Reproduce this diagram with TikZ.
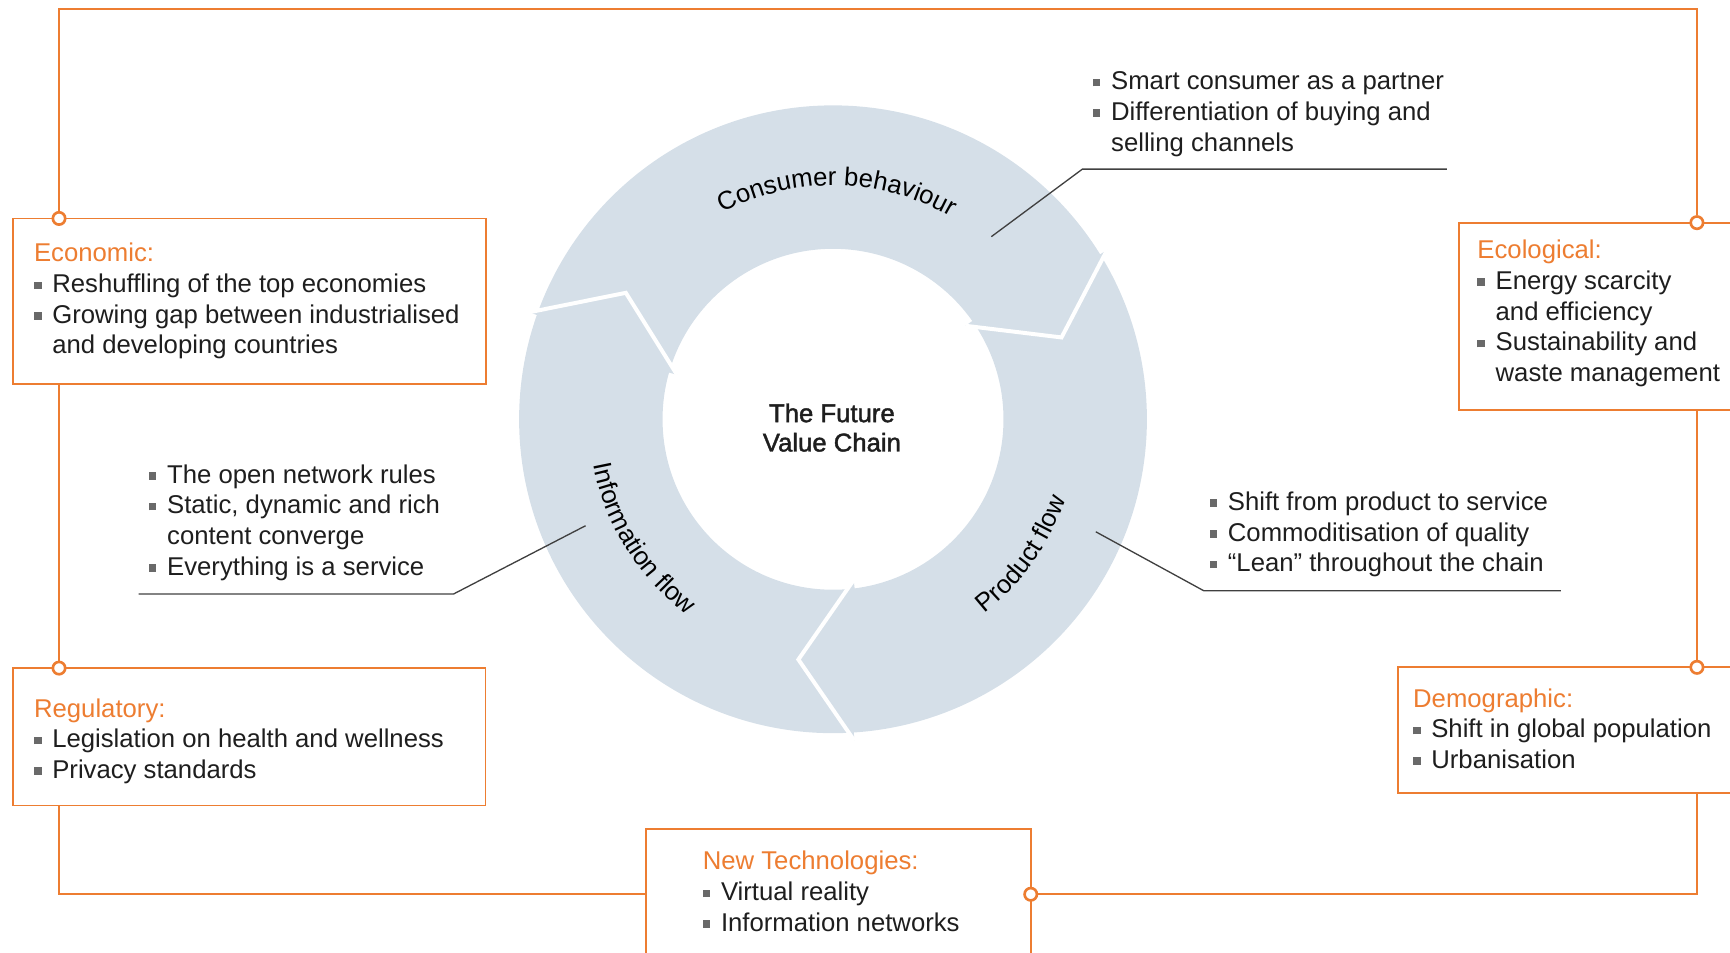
\documentclass[tikz,border=0pt]{standalone}
\usepackage{fontspec}
\setmainfont{Liberation Sans}
\newfontface\medfont[FakeBold=1.6]{Liberation Sans}
\usetikzlibrary{decorations.text,calc}
\definecolor{org}{RGB}{237,125,49}
\definecolor{ringc}{RGB}{213,223,232}
\definecolor{ink}{RGB}{30,30,30}
\definecolor{bulgray}{RGB}{105,105,105}
\newcommand{\bfnt}{\fontsize{11.65}{13.9}\selectfont}
\newcommand{\medfnt}{\medfont\fontsize{11.65}{13.3}\selectfont}
\newcommand{\bulA}{\makebox[8.25pt][l]{\textcolor{bulgray}{\rule[1.6pt]{3.4pt}{3.4pt}}}}
\newcommand{\indA}{\hspace*{8.25pt}}
\newcommand{\strutA}{\rule{0pt}{10pt}}
\begin{document}
\begin{tikzpicture}[x=0.5pt,y=0.5pt,
  frame/.style={draw=org,line width=0.8pt},
  box/.style={draw=org,line width=0.8pt,fill=white,rectangle,inner sep=0pt,outer sep=0pt,anchor=north west},
  knot/.style={circle,draw=org,fill=white,line width=1.2pt,minimum size=5.6pt,inner sep=0pt},
  txt/.style={inner sep=0pt,anchor=north west,align=left,text=ink,font=\bfnt},
  call/.style={draw=ink!85,line width=0.6pt},
  gap/.style={draw=white,line width=1.8pt},
]
\useasboundingbox (0,0) rectangle (1568,-863);
\clip (0,0) rectangle (1568,-863);

% ring
\coordinate (c) at (755,-380);
\fill[ringc, even odd rule] (c) circle[radius=142.25pt] (c) circle[radius=77.25pt];
\foreach \t/\n in {19.7/a,261.8/b,148.6/c} {
  \pgfmathsetmacro\ta{\t+12}
  \pgfmathsetmacro\tb{\t+15.5}
  \coordinate (pt\n) at ($(c)+(\t:110pt)$);
  \coordinate (po\n) at ($(c)+(\ta:146pt)$);
  \coordinate (pi\n) at ($(c)+(\tb:73.5pt)$);
  \fill[ringc] (po\n) -- ($(pt\n)!0.86!(po\n)$) -- ($(c)+(\ta:140.5pt)$) -- cycle;
  \fill[ringc] (pi\n) -- ($(pt\n)!0.86!(pi\n)$) -- ($(c)+(\tb:78.8pt)$) -- cycle;
  \draw[gap] (po\n) -- (pt\n) -- (pi\n);
}

% ring labels
\path[decorate,decoration={text along path,text align=center,text={|\bfnt|Consumer behaviour}}]
  ($(c)+(150:106pt)$) arc[start angle=150,end angle=28,radius=106pt];
\path[decorate,decoration={text along path,text align=center,text={|\bfnt|Information flow}}]
  ($(c)+(170:110.5pt)$) arc[start angle=170,end angle=254,radius=110.5pt];
\path[decorate,decoration={text along path,text align=center,text={|\bfnt|Product flow}}]
  ($(c)+(290:111.5pt)$) arc[start angle=290,end angle=359,radius=111.5pt];

\node[anchor=north,align=center,inner sep=0pt,font=\medfnt,text=ink] (core) at (754,-362.2)
  {\strutA The Future\\Value Chain};

% callouts
\coordinate (cbA) at (898.5,-214.5); \coordinate (cbB) at (981,-153.3); \coordinate (cbC) at (1311.3,-153.3);
\coordinate (ifA) at (530.7,-476.5); \coordinate (ifB) at (411,-538.4); \coordinate (ifC) at (125.6,-538.4);
\coordinate (pfA) at (993.2,-482); \coordinate (pfB) at (1091,-535.4); \coordinate (pfC) at (1414.6,-535.4);
\draw[call] (cbA) -- (cbB) -- (cbC);
\draw[call] (ifA) -- (ifB) -- (ifC);
\draw[call] (pfA) -- (pfB) -- (pfC);

\node[txt] (consT) at (990.2,-61) {\strutA\bulA Smart consumer as a partner\\ \bulA Differentiation of buying and\\ \indA selling channels};
\node[txt] (infoT) at (134.6,-417.5) {\strutA\bulA The open network rules\\ \bulA Static, dynamic and rich\\ \indA content converge\\ \bulA Everything is a service};
\node[txt] (prodT) at (1096,-442.2) {\strutA\bulA Shift from product to service\\ \bulA Commoditisation of quality\\ \bulA “Lean” throughout the chain};

% frame
\coordinate (tl) at (53.5,-8); \coordinate (tr) at (1538,-8);
\coordinate (bl) at (53.5,-810.5); \coordinate (br) at (1538,-810.5);
\node[box,minimum width=214.5pt,minimum height=75pt] (econ) at (11.5,-198) {};
\node[box,minimum width=214.25pt,minimum height=62.25pt] (reg) at (11.5,-605.5) {};
\node[box,minimum width=150pt,minimum height=84.9pt] (ecol) at (1322.4,-201.8) {};
\node[box,minimum width=175pt,minimum height=57.1pt] (demo) at (1267,-604.8) {};
\node[box,minimum width=174.3pt,minimum height=100pt] (tech) at (585.6,-751.7) {};
\node[knot] (k1) at (53.5,-198) {};
\node[knot] (k2) at (53.5,-605.5) {};
\node[knot] (k3) at (934.2,-810.5) {};
\node[knot] (k4) at (1538,-604.8) {};
\node[knot] (k5) at (1538,-201.8) {};
\draw[frame] (k1) -- (tl) -- (tr) -- (k5);
\draw[frame] (k5 |- ecol.south) -- (k4);
\draw[frame] (k4 |- demo.south) -- (br) -- (k3);
\draw[frame] (k3 -| tech.west) -- (bl) -- (k2 |- reg.south);
\draw[frame] (k2) -- (k1 |- econ.south);

\node[txt] (econT) at (30.5,-217) {\strutA\textcolor{org}{Economic:}\\ \bulA Reshuffling of the top economies\\ \bulA Growing gap between industrialised\\ \indA and developing countries};
\node[txt] (regT) at (30.5,-629.5) {\strutA\textcolor{org}{Regulatory:}\\ \bulA Legislation on health and wellness\\ \bulA Privacy standards};
\node[txt] (techT) at (636.6,-768) {\strutA\textcolor{org}{New Technologies:}\\ \bulA Virtual reality\\ \bulA Information networks};
\node[txt] (ecolT) at (1338.7,-214.2) {\strutA\textcolor{org}{Ecological:}\\ \bulA Energy scarcity\\ \indA and efficiency\\ \bulA Sustainability and\\ \indA waste management};
\node[txt] (demoT) at (1280.4,-620.5) {\strutA\textcolor{org}{Demographic:}\\ \bulA Shift in global population\\ \bulA Urbanisation};
\end{tikzpicture}
\end{document}
